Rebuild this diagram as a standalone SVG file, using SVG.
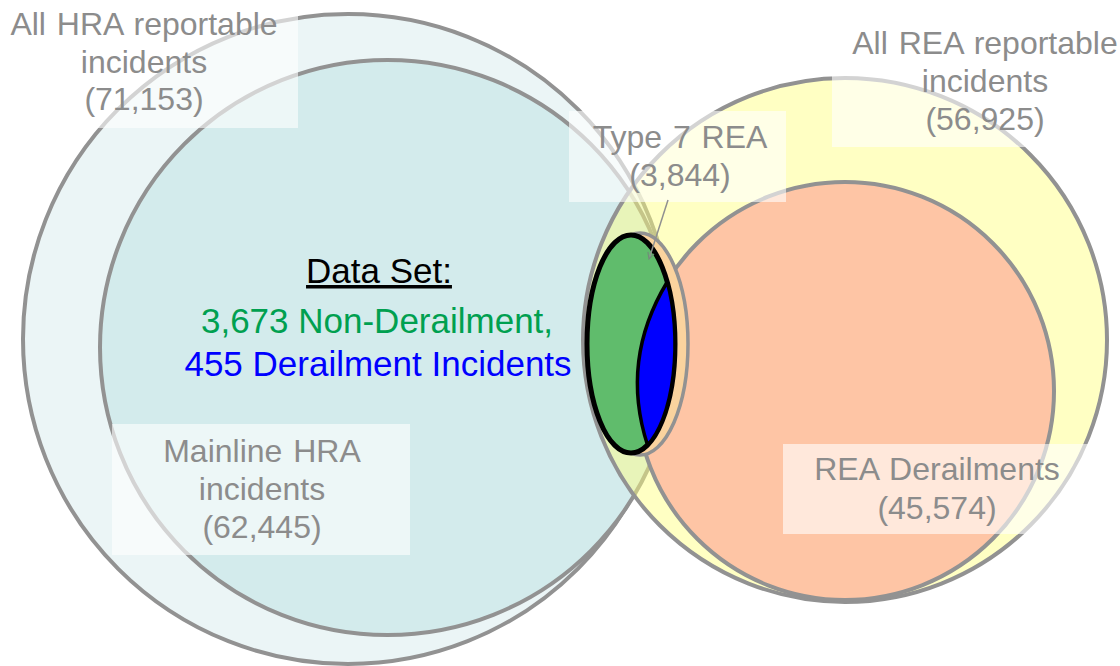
<svg xmlns="http://www.w3.org/2000/svg" width="1120" height="666" viewBox="0 0 1120 666">
  <style>
    .circ { stroke: #929292; stroke-width: 4; }
    .box { fill: #ffffff; fill-opacity: 0.6; }
    .lbl { font-family: "Liberation Sans", Arial, sans-serif; font-size: 32px; fill: #8c8c8c; text-anchor: middle; word-spacing: 2px; }
    .ds { font-family: "Liberation Sans", Arial, sans-serif; font-size: 35px; text-anchor: middle; }
  </style>
  <defs>
    <marker id="arr" viewBox="0 0 10 10" refX="9" refY="5" markerWidth="8" markerHeight="8" orient="auto" markerUnits="userSpaceOnUse">
      <path d="M1,1 L9,5 L1,9" fill="none" stroke="#6f8f78" stroke-width="1.5"/>
    </marker>
  </defs>

  <g id="hra-all">
    <circle class="circ" cx="348" cy="339" r="325" fill="#ebf5f6"/>
  </g>
  <g id="hra-mainline">
    <circle class="circ" cx="387.5" cy="347.5" r="287.5" fill="#d3ebec"/>
  </g>
  <g id="rea-all">
    <circle cx="845" cy="340" r="262" fill="#ffff80" fill-opacity="0.47" stroke="#929292" stroke-width="4"/>
  </g>
  <g id="rea-derailments">
    <circle class="circ" cx="845" cy="391" r="209" fill="#fec5a5"/>
  </g>
  <g id="type7">
    <ellipse cx="640" cy="344" rx="48" ry="111" fill="#fad39e" stroke="#929292" stroke-width="3.5"/>
  </g>
  <g id="dataset">
    <ellipse cx="631" cy="344" rx="44" ry="109" fill="#60bc6c" stroke="#000000" stroke-width="5"/>
    <path d="M667.2,282 Q620,360 647.5,445 A44,109 0 0 0 667.2,282 Z" fill="#0000ff" stroke="#000000" stroke-width="3.5"/>
  </g>

  <g id="labels">
    <rect class="box" x="0" y="0" width="298" height="128"/>
    <text class="lbl" x="144" y="35">All HRA reportable</text>
    <text class="lbl" x="144" y="73">incidents</text>
    <text class="lbl" x="144" y="110">(71,153)</text>

    <rect class="box" x="832" y="25" width="288" height="122"/>
    <text class="lbl" x="985" y="54">All REA reportable</text>
    <text class="lbl" x="985" y="92">incidents</text>
    <text class="lbl" x="985" y="130">(56,925)</text>

    <rect class="box" x="569" y="111" width="217" height="91"/>
    <text class="lbl" x="680" y="148">Type 7 REA</text>
    <text class="lbl" x="680" y="186">(3,844)</text>

    <rect class="box" x="112" y="424" width="298" height="131"/>
    <text class="lbl" x="262" y="462">Mainline  HRA</text>
    <text class="lbl" x="262" y="500">incidents</text>
    <text class="lbl" x="262" y="538">(62,445)</text>

    <rect class="box" x="783" y="444" width="305" height="90"/>
    <text class="lbl" x="937" y="480">REA Derailments</text>
    <text class="lbl" x="937" y="519">(45,574)</text>

    <text class="ds" x="379" y="283" fill="#000000" text-decoration="underline">Data Set:</text>
    <text class="ds" x="377" y="333" fill="#00a050">3,673 Non-Derailment,</text>
    <text class="ds" x="378" y="376" fill="#0000ff">455 Derailment Incidents</text>
  </g>

  <g id="connectors">
    <line x1="668" y1="200" x2="649" y2="259" stroke="#909090" stroke-width="1.5" marker-end="url(#arr)"/>
  </g>
</svg>
